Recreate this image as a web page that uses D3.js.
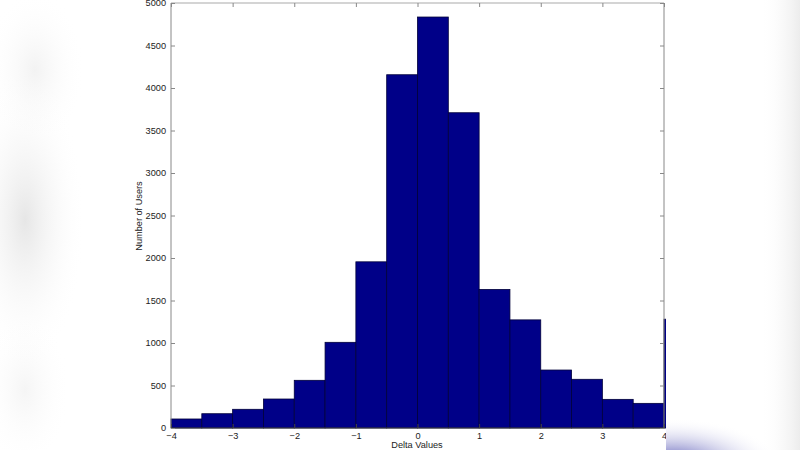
<!DOCTYPE html>
<html><head><meta charset="utf-8">
<script src="https://cdn.jsdelivr.net/npm/d3@7"></script>
<style>html,body{margin:0;padding:0;background:#fff;overflow:hidden}</style>
</head><body>
<svg id="c" width="800" height="450"></svg>
<script>
const binStarts = [-4,-3.5,-3,-2.5,-2,-1.5,-1,-0.5,0,0.5,1,1.5,2,2.5,3,3.5,4];
const counts = [106,168,220,341,561,1008,1955,4156,4835,3709,1630,1272,682,573,337,290,1280];
const binWidth = 0.5;
const xTicks = [-4,-3,-2,-1,0,1,2,3,4];
const yTicks = [0,500,1000,1500,2000,2500,3000,3500,4000,4500,5000];
const xLabel = "Delta Values";
const yLabel = "Number of Users";

const svg = d3.select("#c");
const defs = svg.append("defs");
const lg = defs.append("radialGradient").attr("id","lg").attr("cx","0.5").attr("cy","0.5").attr("r","0.5");
lg.append("stop").attr("offset","0").attr("stop-color","#e6e6e6").attr("stop-opacity",1);
lg.append("stop").attr("offset","1").attr("stop-color","#ffffff").attr("stop-opacity",0);
const bg = defs.append("radialGradient").attr("id","bg").attr("cx","0.5").attr("cy","0.5").attr("r","0.5");
bg.append("stop").attr("offset","0").attr("stop-color","#4644a8").attr("stop-opacity",1);
bg.append("stop").attr("offset","0.3").attr("stop-color","#7070c0").attr("stop-opacity",0.75);
bg.append("stop").attr("offset","1").attr("stop-color","#ffffff").attr("stop-opacity",0);
const rg = defs.append("linearGradient").attr("id","rg").attr("x1","0").attr("x2","1");
rg.append("stop").attr("offset","0").attr("stop-color","#ffffff").attr("stop-opacity",0);
rg.append("stop").attr("offset","1").attr("stop-color","#e4e4e4").attr("stop-opacity",1);
defs.append("clipPath").attr("id","clip").append("rect").attr("x",0).attr("y",0).attr("width",666).attr("height",450);
defs.append("clipPath").attr("id","clipR").append("rect").attr("x",666).attr("y",0).attr("width",134).attr("height",450);

svg.append("rect").attr("width",800).attr("height",450).attr("fill","#ffffff");
svg.append("ellipse").attr("cx",25).attr("cy",220).attr("rx",60).attr("ry",150).attr("fill","url(#lg)");
svg.append("ellipse").attr("cx",35).attr("cy",70).attr("rx",50).attr("ry",80).attr("fill","url(#lg)").attr("opacity",0.5);
svg.append("ellipse").attr("cx",25).attr("cy",390).attr("rx",45).attr("ry",80).attr("fill","url(#lg)").attr("opacity",0.4);
svg.append("rect").attr("x",760).attr("y",0).attr("width",40).attr("height",450).attr("fill","url(#rg)").attr("opacity",0.7);

const chart = svg.append("g").attr("clip-path","url(#clip)");

const L=171, R=664, T=3, B=428;
const x = d3.scaleLinear().domain([-4,4]).range([L,R]);
const y = d3.scaleLinear().domain([0,5000]).range([B,T]);

chart.selectAll("rect.bar").data(binStarts).join("rect").attr("class","bar")
  .attr("x",d=>x(d)).attr("width",d=>x(d+binWidth)-x(d))
  .attr("y",(d,i)=>y(counts[i])).attr("height",(d,i)=>B-y(counts[i]))
  .attr("fill","#000088").attr("stroke","#00003a").attr("stroke-width",0.8);

const axisColor="#888";
chart.append("line").attr("x1",L).attr("x2",R).attr("y1",T).attr("y2",T).attr("stroke","#aaa").attr("stroke-width",1.2);
chart.append("line").attr("x1",L).attr("x2",L).attr("y1",T).attr("y2",B).attr("stroke",axisColor).attr("stroke-width",1);
chart.append("line").attr("x1",R).attr("x2",R).attr("y1",T).attr("y2",B).attr("stroke",axisColor).attr("stroke-width",1);
chart.append("line").attr("x1",L).attr("x2",R).attr("y1",B).attr("y2",B).attr("stroke","#444").attr("stroke-width",1);

const font = "'Liberation Sans', Arial, Helvetica, sans-serif";
const fs = 9.2;
const ya = chart.append("g").attr("transform",`translate(${L},0)`)
  .call(d3.axisLeft(y).tickValues(yTicks).tickSizeInner(-4).tickSizeOuter(0).tickPadding(5).tickFormat(d3.format("d")));
ya.select(".domain").remove();
ya.selectAll("line").attr("stroke",axisColor);
ya.selectAll("text").attr("font-family",font).attr("font-size",fs).attr("fill","#222");
const yr = chart.append("g").attr("transform",`translate(${R},0)`)
  .call(d3.axisRight(y).tickValues(yTicks).tickSizeInner(-4).tickSizeOuter(0).tickFormat(""));
yr.select(".domain").remove();
yr.selectAll("line").attr("stroke",axisColor);
const xa = chart.append("g").attr("transform",`translate(0,${B})`)
  .call(d3.axisBottom(x).tickValues(xTicks).tickSizeInner(-4).tickSizeOuter(0).tickPadding(4).tickFormat(d=>d<0?"\u2212"+Math.abs(d):d));
xa.select(".domain").remove();
xa.selectAll("line").attr("stroke","#444");
xa.selectAll("text").attr("font-family",font).attr("font-size",fs).attr("fill","#222");
const xt = chart.append("g").attr("transform",`translate(0,${T})`)
  .call(d3.axisTop(x).tickValues(xTicks).tickSizeInner(-4).tickSizeOuter(0).tickFormat(""));
xt.select(".domain").remove();
xt.selectAll("line").attr("stroke",axisColor);

chart.append("text").attr("x",417).attr("y",448).attr("text-anchor","middle")
  .attr("font-family",font).attr("font-size",fs).attr("fill","#222").text(xLabel);
chart.append("text").attr("transform",`translate(141.5,216) rotate(-90)`).attr("text-anchor","middle")
  .attr("font-family",font).attr("font-size",fs).attr("fill","#222").text(yLabel);

svg.append("g").attr("clip-path","url(#clipR)")
  .append("ellipse").attr("cx",672).attr("cy",468).attr("rx",110).attr("ry",50).attr("fill","url(#bg)");
</script>
</body></html>
